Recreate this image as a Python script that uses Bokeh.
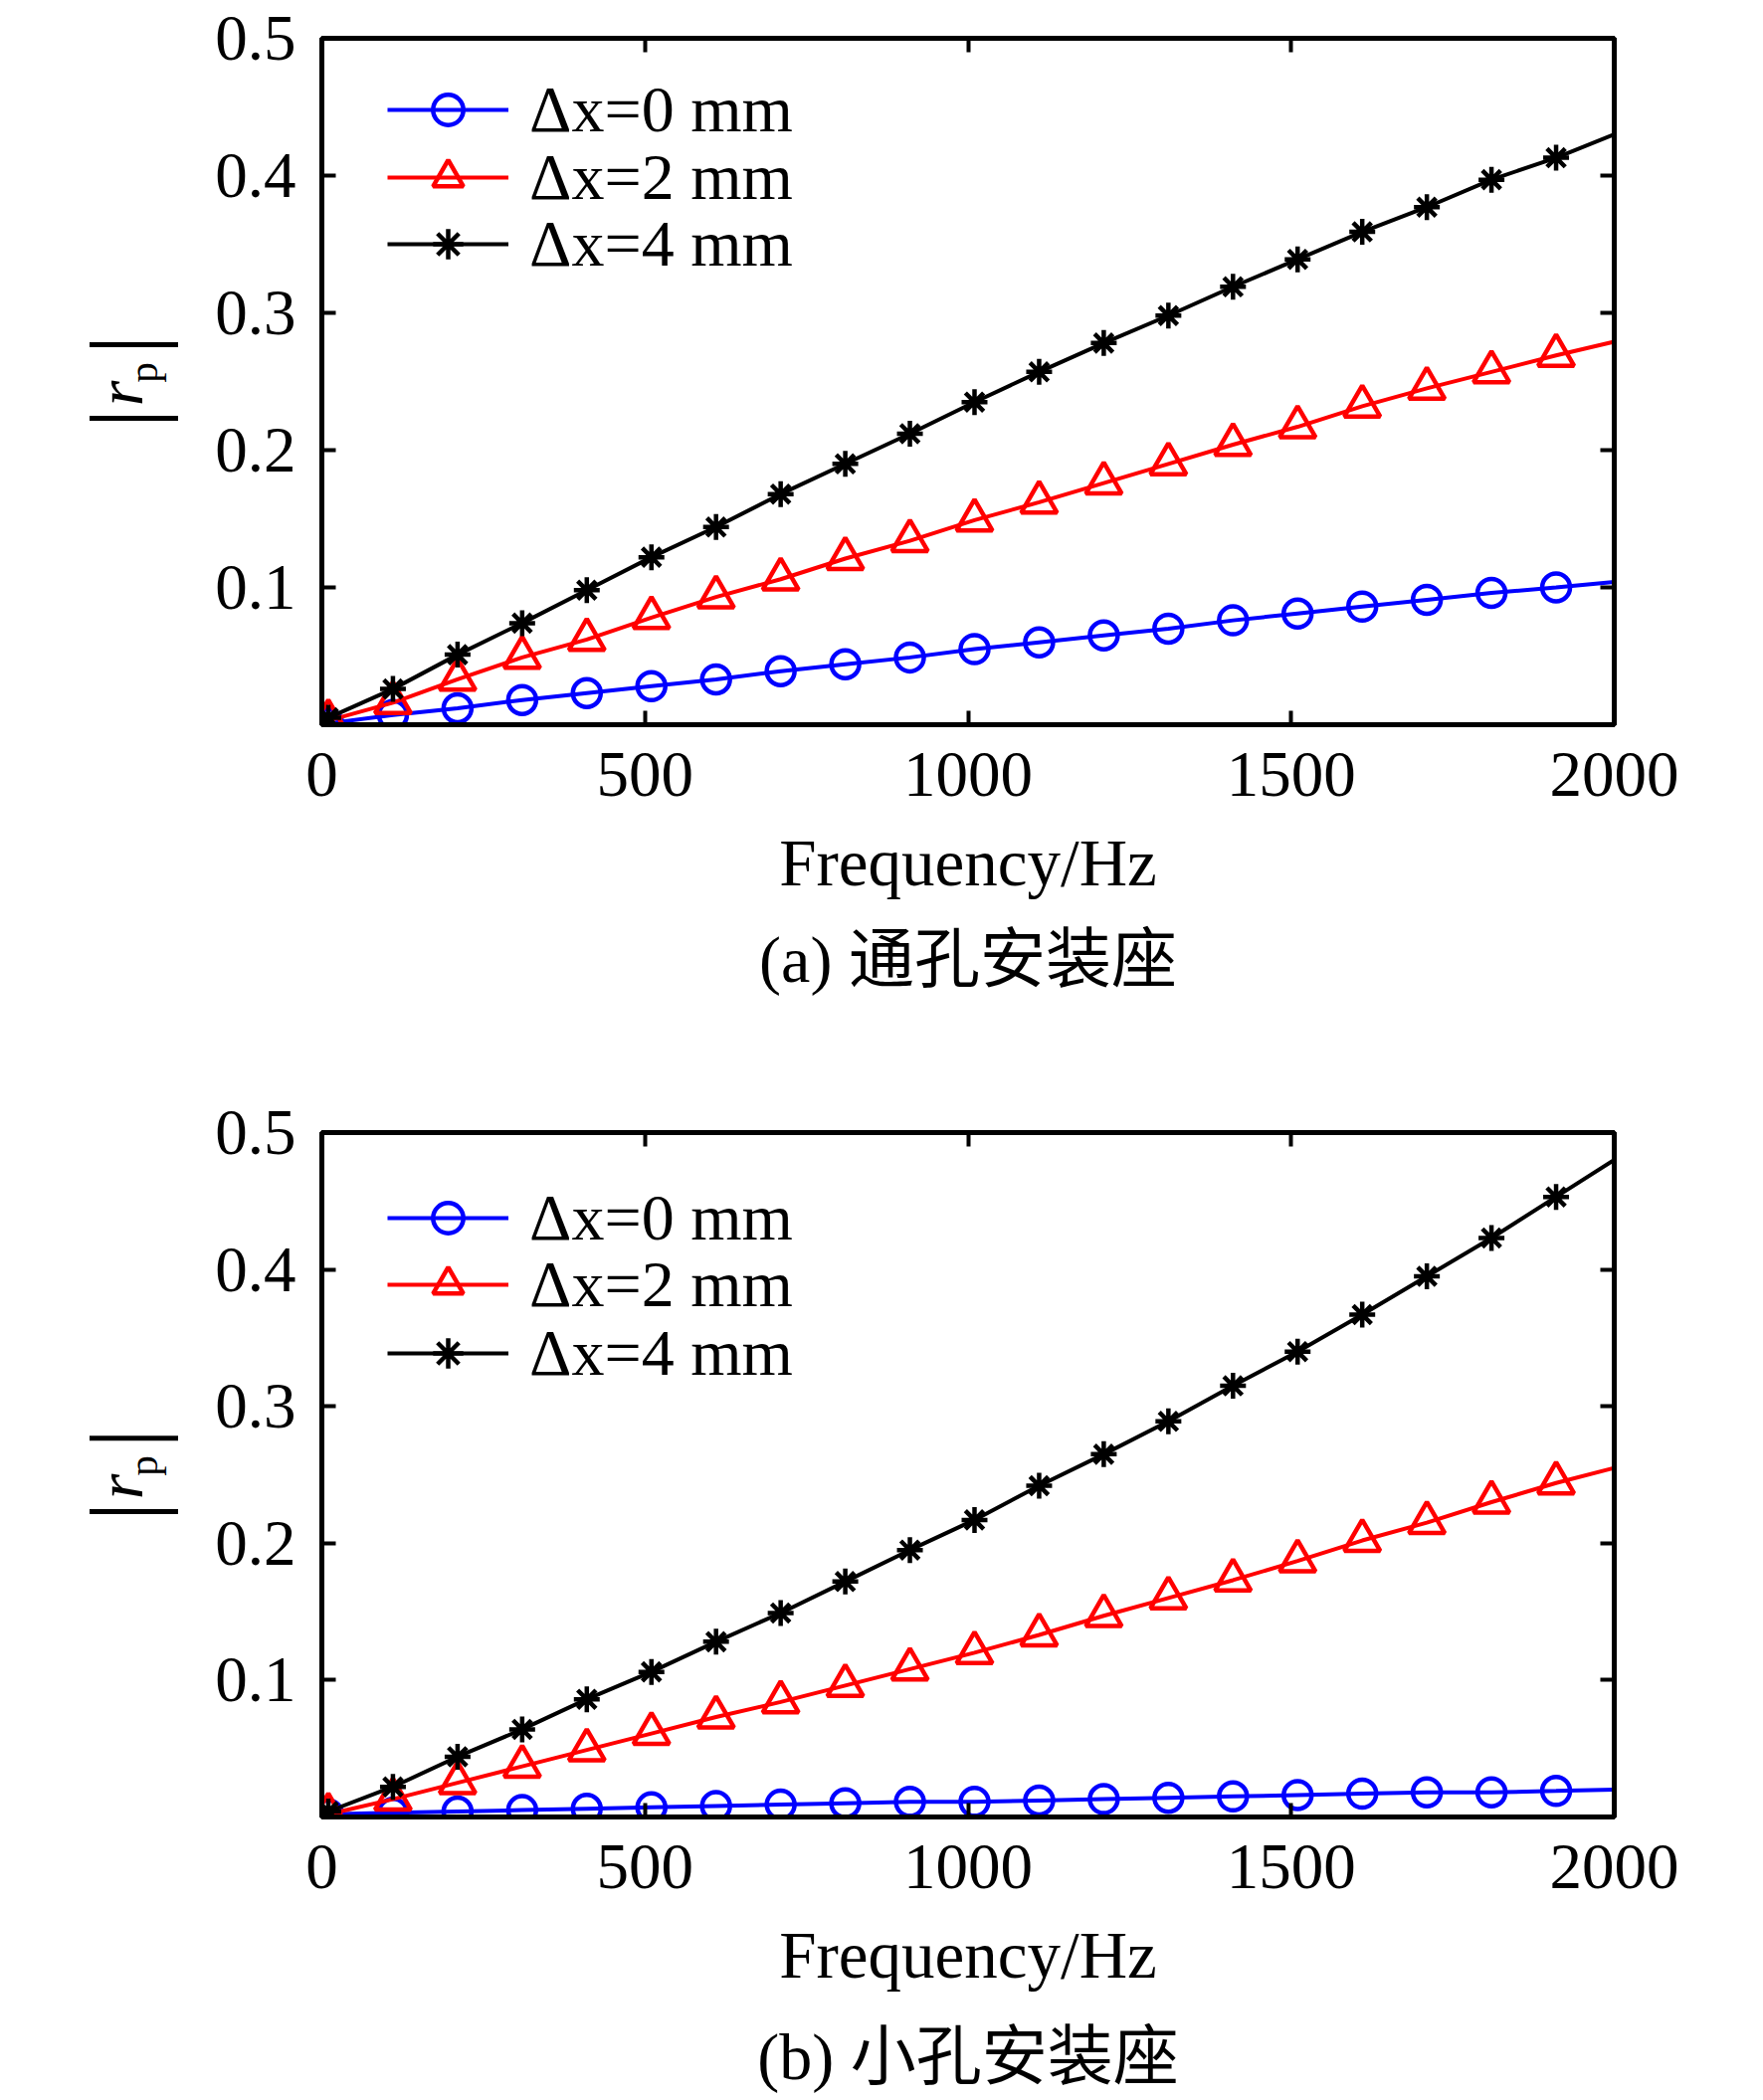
import math
from bokeh.plotting import figure
from bokeh.models import (Range1d, LinearAxis, FixedTicker, Label, Legend,
                          LegendItem, CustomJSTickFormatter)
from bokeh.layouts import column, row
from bokeh.embed import file_html
from bokeh.resources import INLINE

# ---------------- data ----------------
freq = [10, 110, 210, 310, 410, 510, 610, 710, 810, 910, 1010,
        1110, 1210, 1310, 1410, 1510, 1610, 1710, 1810, 1910, 2000]

# panel (a) through-hole mount
a_dx0 = [0.001, 0.007, 0.012, 0.018, 0.023, 0.028, 0.033, 0.039, 0.044, 0.049, 0.055,
         0.060, 0.065, 0.070, 0.076, 0.081, 0.086, 0.091, 0.096, 0.100, 0.104]
a_dx2 = [0.003, 0.016, 0.033, 0.049, 0.062, 0.078, 0.093, 0.106, 0.121, 0.134, 0.149,
         0.162, 0.176, 0.190, 0.204, 0.217, 0.232, 0.245, 0.257, 0.269, 0.279]
a_dx4 = [0.005, 0.026, 0.051, 0.074, 0.098, 0.122, 0.144, 0.168, 0.190, 0.212, 0.235,
         0.257, 0.278, 0.298, 0.319, 0.339, 0.359, 0.377, 0.397, 0.413, 0.430]

# panel (b) small-hole mount
b_dx0 = [0.002, 0.003, 0.004, 0.005, 0.006, 0.007, 0.008, 0.009, 0.010, 0.011, 0.011,
         0.012, 0.013, 0.014, 0.015, 0.016, 0.017, 0.018, 0.018, 0.019, 0.020]
b_dx2 = [0.002, 0.013, 0.025, 0.037, 0.049, 0.061, 0.073, 0.084, 0.096, 0.108, 0.120,
         0.133, 0.147, 0.160, 0.173, 0.187, 0.202, 0.215, 0.230, 0.244, 0.255]
b_dx4 = [0.004, 0.022, 0.044, 0.064, 0.086, 0.106, 0.128, 0.149, 0.172, 0.195, 0.217,
         0.242, 0.265, 0.289, 0.315, 0.340, 0.367, 0.395, 0.423, 0.453, 0.480]

legend_labels = ["Δx=0 mm", "Δx=2 mm", "Δx=4 mm"]
captions = ["(a) 通孔安装座", "(b) 小孔安装座"]
x_label = "Frequency/Hz"
y_label_parts = ["|", "r", "p", "|"]
x_ticks = [0, 500, 1000, 1500, 2000]
y_ticks = [0.1, 0.2, 0.3, 0.4, 0.5]

# ---------------- style ----------------
colors = ["#0000FF", "#FF0000", "#000000"]
markers = ["circle", "triangle", "asterisk"]
msizes = [28, 36, 26]
SERIF = "'Liberation Serif'"
CAPFONT = "'Liberation Serif', 'Noto Sans CJK SC'"

PAGE_W = 1772
LAB_W = 193            # width of the y-label strip
MAIN_W = PAGE_W - LAB_W
FW, FH = 1299, 690
LEFT = 130
RIGHT = MAIN_W - LEFT - FW
XMAX, YMAX = 2000.0, 0.5
BLANK = CustomJSTickFormatter(code="return ''")


def style_axis(ax, ticks, show_labels):
    ax.ticker = FixedTicker(ticks=ticks)
    ax.major_tick_in = 14
    ax.major_tick_out = 0
    ax.minor_tick_in = 0
    ax.minor_tick_out = 0
    ax.axis_line_width = 5
    ax.axis_line_color = "black"
    ax.major_tick_line_width = 4
    ax.major_tick_line_color = "black"
    if show_labels:
        ax.major_label_text_font = SERIF
        ax.major_label_text_font_size = "65px"
        ax.major_label_text_color = "black"
    else:
        ax.formatter = BLANK
        ax.major_label_text_font_size = "8px"
        ax.major_label_standoff = 0


def blank_fig(w, h, yspan):
    f = figure(width=w, height=h, x_range=Range1d(0, w), y_range=Range1d(0, yspan),
               output_backend="svg", toolbar_location=None,
               x_axis_type=None, y_axis_type=None, min_border=0,
               background_fill_color="white", border_fill_color="white")
    f.outline_line_color = None
    f.xgrid.visible = False
    f.ygrid.visible = False
    return f


def make_panel(series, top, bottom, rows):
    height = top + FH + bottom
    p = figure(width=MAIN_W, height=height,
               x_range=Range1d(0, XMAX), y_range=Range1d(0, YMAX),
               output_backend="svg", toolbar_location=None,
               min_border_left=LEFT, min_border_right=RIGHT,
               min_border_top=top, min_border_bottom=bottom,
               background_fill_color="white", border_fill_color="white")
    p.xgrid.visible = False
    p.ygrid.visible = False
    p.outline_line_color = "black"
    p.outline_line_width = 5

    xa = p.xaxis[0]
    style_axis(xa, x_ticks, True)
    xa.major_label_standoff = 28
    xa.axis_label = x_label
    xa.axis_label_text_font = SERIF
    xa.axis_label_text_font_size = "67px"
    xa.axis_label_text_font_style = "normal"
    xa.axis_label_text_color = "black"
    xa.axis_label_standoff = 27

    ya = p.yaxis[0]
    style_axis(ya, y_ticks, True)
    ya.major_label_standoff = 26

    top_ax = LinearAxis()
    style_axis(top_ax, x_ticks, False)
    p.add_layout(top_ax, "above")
    right_ax = LinearAxis()
    style_axis(right_ax, y_ticks, False)
    p.add_layout(right_ax, "right")

    row_h = 76
    for vals, c, m, s, lab, rc in zip(series, colors, markers, msizes,
                                      legend_labels, rows):
        lr = p.line(freq, vals, line_color=c, line_width=4)
        mr = p.scatter(freq[:-1], vals[:-1], marker=m, size=s,
                       line_color=c, line_width=4.5, fill_alpha=0)
        leg = Legend(items=[LegendItem(label=lab, renderers=[lr, mr])],
                     location=(66, FH - (rc - row_h / 2) - row_h),
                     padding=0, margin=0, spacing=0,
                     glyph_width=122, glyph_height=row_h, label_height=row_h,
                     label_standoff=21,
                     label_text_font=SERIF, label_text_font_size="66px",
                     label_text_color="black",
                     border_line_alpha=0, background_fill_alpha=0)
        p.add_layout(leg)
    return p


def make_ylabel(height):
    # inside a row, this figure's frame is aligned with the panel frame
    f = blank_fig(LAB_W, height, FH)
    rot = math.pi / 2
    mid = FH / 2
    specs = [(124, 37, "98px", "normal"),
             (120, 12, "66px", "italic"),
             (143, -9, "41px", "normal"),
             (124, -37, "98px", "normal")]
    for txt, (x, dy, size, style) in zip(y_label_parts, specs):
        f.add_layout(Label(x=x, y=FH - (mid + dy), text=txt, angle=rot,
                           text_align="center", text_baseline="middle",
                           text_font=SERIF, text_font_size=size,
                           text_font_style=style, text_color="black"))
    return f


def make_caption(text, height, baseline):
    f = blank_fig(PAGE_W, height, height)
    f.add_layout(Label(x=LAB_W + LEFT + FW / 2, y=height - baseline, text=text,
                       text_align="center", text_baseline="alphabetic",
                       text_font=CAPFONT, text_font_size="66px",
                       text_color="black"))
    return f


A_TOP, A_BOT = 38, 190
B_TOP, B_BOT = 70, 176

pa = make_panel([a_dx0, a_dx2, a_dx4], A_TOP, A_BOT, [72, 140, 207])
la = make_ylabel(A_TOP + FH + A_BOT)
ca = make_caption(captions[0], 150, 46)

pb = make_panel([b_dx0, b_dx2, b_dx4], B_TOP, B_BOT, [88, 155, 224])
lb = make_ylabel(B_TOP + FH + B_BOT)
cb = make_caption(captions[1], 107, 63)

layout = column(row(la, pa), ca, row(lb, pb), cb)
open("out.html", "w").write(file_html(layout, INLINE))
